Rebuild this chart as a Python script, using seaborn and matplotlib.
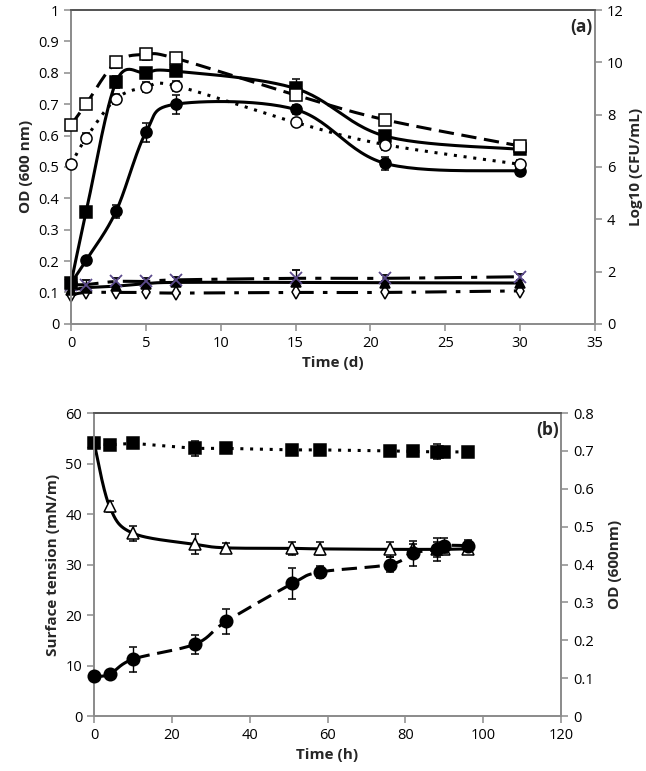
import numpy as np
import pandas as pd
import matplotlib
matplotlib.use("Agg")
import matplotlib.pyplot as plt
import seaborn as sns

# ---- panel (a) data: time in days ----
days = [0, 1, 3, 5, 7, 15, 21, 30]
od_filled_sq = [0.13, 0.355, 0.77, 0.80, 0.805, 0.75, 0.598, 0.556]
od_filled_circ = [0.13, 0.202, 0.358, 0.61, 0.70, 0.683, 0.511, 0.487]
cfu_open_sq = [7.6, 8.4, 10.0, 10.3, 10.15, 8.75, 7.8, 6.8]
cfu_open_circ = [6.1, 7.1, 8.6, 9.05, 9.1, 7.7, 6.85, 6.1]
od_cross = [0.125, 0.125, 0.135, 0.135, 0.14, 0.145, 0.145, 0.15]
od_triangle = [0.107, 0.115, 0.12, 0.128, 0.132, 0.132, 0.131, 0.13]
od_diamond = [0.092, 0.1, 0.1, 0.1, 0.098, 0.1, 0.1, 0.105]

err_filled_sq = [0.01, 0.01, 0.02, 0.015, 0.015, 0.03, 0.015, 0.01]
err_filled_circ = [0.005, 0.01, 0.02, 0.03, 0.03, 0.015, 0.02, 0.01]
err_open_sq = [0.2, 0.2, 0.2, 0.2, 0.2, 0.2, 0.2, 0.15]
err_open_circ = [0.15, 0.2, 0.2, 0.2, 0.2, 0.15, 0.2, 0.15]
err_cross = [0.01, 0.015, 0.01, 0.01, 0.01, 0.025, 0.01, 0.01]

# ---- panel (b) data: time in hours ----
hours = [0, 4, 10, 26, 34, 51, 58, 76, 82, 88, 90, 96]
st_control = [54.0, 53.7, 54.0, 53.0, 53.0, 52.7, 52.7, 52.5, 52.4, 52.3, 52.3, 52.3]
st_culture = [54.2, 41.5, 36.2, 34.0, 33.3, 33.2, 33.1, 33.0, 33.0, 33.0, 33.0, 33.1]
od_growth = [0.105, 0.11, 0.15, 0.19, 0.25, 0.35, 0.38, 0.40, 0.43, 0.44, 0.45, 0.45]

err_control = [0.3, 0.3, 0.3, 1.5, 0.5, 0.3, 0.3, 0.3, 0.3, 1.5, 0.5, 0.3]
err_culture = [0.5, 1.0, 1.5, 2.0, 1.0, 1.3, 1.3, 1.5, 1.0, 1.5, 1.0, 1.0]
err_growth = [0.005, 0.005, 0.033, 0.025, 0.033, 0.04, 0.015, 0.02, 0.033, 0.03, 0.02, 0.015]


def smooth(x, y, n=30):
    # Excel-style smoothed line (Bezier with 1/6 tension)
    x = np.asarray(x, float)
    y = np.asarray(y, float)
    px = np.concatenate([[x[0]], x, [x[-1]]])
    py = np.concatenate([[y[0]], y, [y[-1]]])
    xs, ys = [], []
    t = np.linspace(0, 1, n)
    for i in range(1, len(px) - 2):
        p0 = np.array([px[i], py[i]])
        p3 = np.array([px[i + 1], py[i + 1]])
        c1 = p0 + (np.array([px[i + 1], py[i + 1]]) - np.array([px[i - 1], py[i - 1]])) / 6
        c2 = p3 - (np.array([px[i + 2], py[i + 2]]) - np.array([px[i], py[i]])) / 6
        b = ((1 - t) ** 3)[:, None] * p0 + (3 * (1 - t) ** 2 * t)[:, None] * c1 \
            + (3 * (1 - t) * t ** 2)[:, None] * c2 + (t ** 3)[:, None] * p3
        xs.extend(b[:, 0])
        ys.extend(b[:, 1])
    return pd.DataFrame({"x": xs, "y": ys})


sns.set_style("ticks")
plt.rcParams['font.family'] = ['Open Sans', 'DejaVu Sans']
plt.rcParams['font.size'] = 10.5

fig = plt.figure(figsize=(6.46, 7.71), dpi=100)
ax1 = fig.add_axes([0.110, 0.580, 0.811, 0.407])
ax1r = ax1.twinx()
ax2 = fig.add_axes([0.1455, 0.0713, 0.723, 0.393])
ax2r = ax2.twinx()

grey = "#8c8c8c"
lw = 2.2


def line(ax, x, y, ls, smooth_it=True, color="black", width=lw):
    d = smooth(x, y) if smooth_it else pd.DataFrame({"x": x, "y": y})
    sns.lineplot(data=d, x="x", y="y", ax=ax, color=color, linewidth=width,
                 linestyle=ls, sort=False, estimator=None)


def unclip(cont):
    for art in cont.get_children():
        art.set_clip_on(False)


def marks(ax, x, y, err, marker, face, size=8, edge="black", z=3):
    c = ax.errorbar(x, y, yerr=err, fmt=marker, ms=size, mfc=face, mec=edge,
                    mew=1.1, ecolor="black", elinewidth=1, capsize=3, zorder=z)
    unclip(c)


# ---- panel (a) ----
line(ax1, days, od_cross, (0, (9, 3, 2, 3)))
line(ax1, days, od_diamond, (0, (7, 3, 1.5, 3)))
line(ax1, days, od_triangle, "-")
line(ax1, days, od_filled_sq, "-")
line(ax1, days, od_filled_circ, "-")
line(ax1r, days, cfu_open_sq, (0, (5, 2.5)))
line(ax1r, days, cfu_open_circ, (0, (1, 2.2)))

marks(ax1, days, od_diamond, None, "d", "white", size=7)
marks(ax1, days, od_triangle, None, "^", "black", size=7)
cx = ax1.errorbar(days, od_cross, yerr=err_cross, fmt="x", ms=8, mec="#5b4a8b",
                  mew=1.3, ecolor="black", elinewidth=1, capsize=3, zorder=3)
unclip(cx)
marks(ax1, days, od_filled_sq, err_filled_sq, "s", "black")
marks(ax1, days, od_filled_circ, err_filled_circ, "o", "black")
marks(ax1r, days, cfu_open_sq, err_open_sq, "s", "white")
marks(ax1r, days, cfu_open_circ, err_open_circ, "o", "white")

ax1.set_xlim(0, 35)
ax1.set_ylim(0, 1)
ax1r.set_ylim(0, 12)
ax1.set_xticks(range(0, 36, 5))
ax1.set_yticks(np.arange(0, 1.01, 0.1))
ax1.set_yticklabels(["0", "0.1", "0.2", "0.3", "0.4", "0.5", "0.6", "0.7", "0.8", "0.9", "1"])
ax1r.set_yticks(range(0, 13, 2))
ax1.set_xlabel("Time (d)", fontweight="bold", fontsize=11)
ax1.set_ylabel("OD (600 nm)", fontweight="bold", fontsize=11)
ax1r.set_ylabel("Log10 (CFU/mL)", fontweight="bold", fontsize=11)
ax1.text(0.995, 0.975, "(a)", transform=ax1.transAxes, ha="right", va="top",
         fontweight="bold", fontsize=12.5)

# ---- panel (b) ----
line(ax2, hours, st_control, (0, (1, 2.2)), smooth_it=False)
line(ax2, hours, st_culture, "-")
line(ax2r, hours, od_growth, (0, (5, 2.5)))

marks(ax2, hours, st_culture, err_culture, "^", "white", size=8, z=3)
marks(ax2, hours, st_control, err_control, "s", "black", size=9, z=4)
marks(ax2r, hours, od_growth, err_growth, "o", "black", size=9)

ax2.set_xlim(0, 120)
ax2.set_ylim(0, 60)
ax2r.set_ylim(0, 0.8)
ax2.set_xticks(range(0, 121, 20))
ax2.set_yticks(range(0, 61, 10))
ax2r.set_yticks(np.arange(0, 0.81, 0.1))
ax2r.set_yticklabels(["0", "0.1", "0.2", "0.3", "0.4", "0.5", "0.6", "0.7", "0.8"])
ax2.set_xlabel("Time (h)", fontweight="bold", fontsize=11)
ax2.set_ylabel("Surface tension (mN/m)", fontweight="bold", fontsize=11)
ax2r.set_ylabel("OD (600nm)", fontweight="bold", fontsize=11)
ax2.text(0.995, 0.975, "(b)", transform=ax2.transAxes, ha="right", va="top",
         fontweight="bold", fontsize=12.5)

for a in [ax1, ax1r, ax2, ax2r]:
    for side in ["left", "right", "bottom"]:
        a.spines[side].set_color(grey)
        a.spines[side].set_linewidth(1.3)
    a.spines["top"].set_color("#555555")
    a.spines["top"].set_linewidth(1.3)
    a.tick_params(color=grey, length=5, width=1.1, labelsize=10.5, labelcolor="black")

ax1.yaxis.labelpad = 4
ax2.yaxis.labelpad = 4
ax2r.yaxis.labelpad = 10

fig.savefig("out.png", dpi=100)
